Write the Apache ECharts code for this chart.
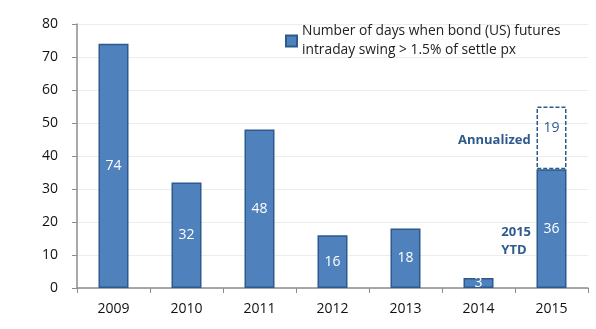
<!DOCTYPE html>
<html><head><meta charset="utf-8">
<script src="https://cdn.jsdelivr.net/npm/echarts@6/dist/echarts.min.js"></script>
<style>html,body{margin:0;padding:0;background:#fff}#c{width:596px;height:329px}</style>
</head><body><div id="c"></div>
<script>
var categories = ['2009','2010','2011','2012','2013','2014','2015'];
var ytdDays = [74, 32, 48, 16, 18, 3, 36];
var annualizedExtra = [null, null, null, null, null, null, 19];
var yTicks = {min: 0, max: 80, interval: 10};
var legendText = 'Number of days when bond (US) futures\nintraday swing > 1.5% of settle px';

var FONT = 'Open Sans';
var chart = echarts.init(document.getElementById('c'), null, {renderer: 'canvas'});
chart.setOption({
  animation: false,
  textStyle: {fontFamily: FONT},
  grid: {left: 77, right: 8, top: 24, bottom: 41},
  legend: {
    data: [{name: legendText}],
    left: 280, top: 17,
    icon: 'rect', itemWidth: 11, itemHeight: 11,
    textStyle: {fontFamily: FONT, fontSize: 13.8, color: '#222', lineHeight: 19}
  },
  xAxis: {
    type: 'category', data: categories,
    axisLine: {lineStyle: {color: '#8c8c8c', width: 1.5}},
    axisTick: {show: true, length: 5, lineStyle: {color: '#8c8c8c'}},
    axisLabel: {color: '#111', fontSize: 14, margin: 14, fontFamily: FONT}
  },
  yAxis: {
    type: 'value', min: yTicks.min, max: yTicks.max, interval: yTicks.interval,
    axisLine: {show: true, lineStyle: {color: '#8c8c8c', width: 1.5}},
    axisTick: {show: true, length: 5, inside: false, lineStyle: {color: '#8c8c8c'}},
    splitLine: {lineStyle: {color: '#ececec'}},
    axisLabel: {color: '#111', fontSize: 14, margin: 19, fontFamily: FONT}
  },
  series: [
    {
      name: legendText, type: 'bar', stack: 'a', data: ytdDays, barWidth: 30,
      itemStyle: {color: '#4f81bd', borderColor: '#2c5a8c', borderWidth: 1.5},
      label: {show: true, position: 'inside', color: '#fff', fontSize: 14, fontFamily: FONT}
    },
    {
      name: 'Annualized', type: 'bar', stack: 'a', data: annualizedExtra, barWidth: 30,
      itemStyle: {color: 'rgba(255,255,255,0)', borderColor: '#2c5a8c', borderWidth: 1.5, borderType: [4, 2]},
      label: {show: true, position: 'insideTop', distance: 15, color: '#2f5a8c', fontSize: 14, fontFamily: FONT}
    }
  ],
  graphic: [
    {type: 'text', left: 458, top: 134, style: {text: 'Annualized', fill: '#2f5a8c', font: 'bold 13px "Open Sans"'}},
    {type: 'text', right: 65, top: 223, style: {text: '2015\nYTD', fill: '#2f5a8c', font: 'bold 13px "Open Sans"', align: 'right', lineHeight: 18}}
  ]
});
</script></body></html>
